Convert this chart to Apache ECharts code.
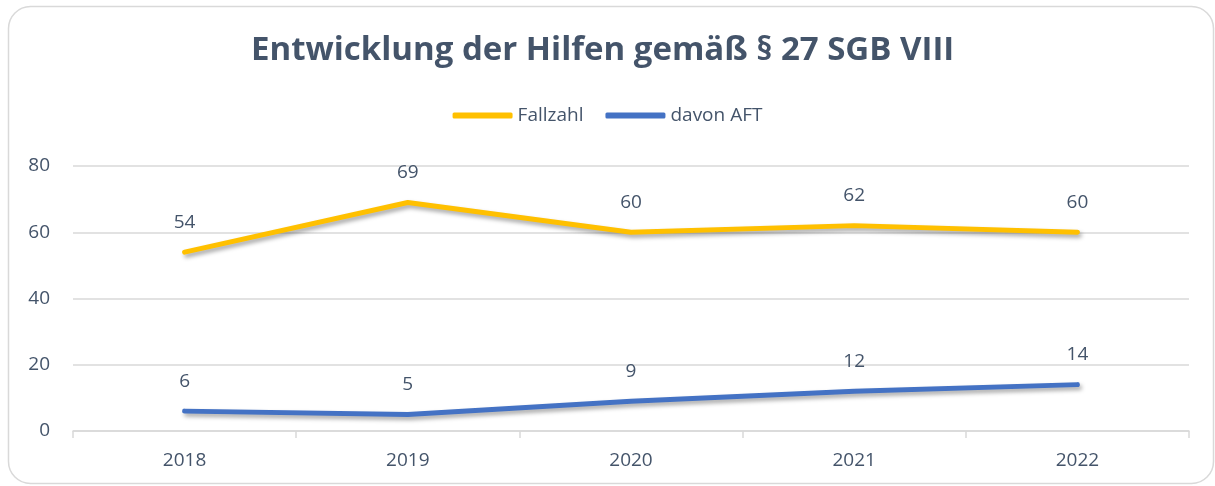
<!DOCTYPE html>
<html>
<head>
<meta charset="utf-8">
<script src="https://cdn.jsdelivr.net/npm/echarts@6/dist/echarts.min.js"></script>
<style>
  html, body { margin: 0; padding: 0; background: #fff; }
  #chart { width: 1215px; height: 486px; }
</style>
</head>
<body>
<div id="chart"></div>
<script>
  // Daten
  const years = ['2018', '2019', '2020', '2021', '2022'];
  const fallzahl = [54, 69, 60, 62, 60];
  const davonAft = [6, 5, 9, 12, 14];
  const yTicks = [0, 20, 40, 60, 80];

  const textColor = '#44546A';
  const font = 'Open Sans';

  const lineShadow = {
    shadowColor: 'rgba(0,0,0,0.35)',
    shadowBlur: 4,
    shadowOffsetX: 2,
    shadowOffsetY: 3
  };

  function lineSeries(name, data, color) {
    return {
      name: name,
      type: 'line',
      data: data,
      color: color,
      symbol: 'circle',
      symbolSize: 1,
      showSymbol: true,
      itemStyle: { color: color },
      lineStyle: Object.assign({ width: 5, cap: 'round', join: 'round' }, lineShadow),
      label: {
        show: true, position: 'top', distance: 20,
        fontFamily: font, fontSize: 19, color: textColor
      }
    };
  }

  const chart = echarts.init(document.getElementById('chart'));
  chart.setOption({
    animation: false,
    textStyle: { fontFamily: font },
    graphic: [{
      type: 'rect',
      shape: { x: 8.5, y: 6.5, width: 1205, height: 477, r: 22 },
      style: { fill: 'none', stroke: '#d9d9d9', lineWidth: 1.5 },
      z: -1
    }],
    title: {
      text: 'Entwicklung der Hilfen gemäß § 27 SGB VIII',
      left: 246,
      top: 29,
      textStyle: { fontFamily: font, fontSize: 33, fontWeight: 'bold', color: textColor }
    },
    legend: {
      top: 101,
      left: 'center',
      itemWidth: 60,
      itemHeight: 6,
      itemGap: 22,
      icon: 'roundRect',
      textStyle: { fontFamily: font, fontSize: 19, color: textColor },
      data: ['Fallzahl', 'davon AFT']
    },
    grid: { left: 73, right: 26, top: 166, bottom: 55 },
    xAxis: {
      type: 'category',
      data: years,
      boundaryGap: true,
      axisLine: { lineStyle: { color: '#d9d9d9', width: 1.5 } },
      axisTick: { show: true, length: 7, lineStyle: { color: '#d9d9d9', width: 1.5 } },
      axisLabel: { fontFamily: font, fontSize: 19, color: textColor, margin: 20 }
    },
    yAxis: {
      type: 'value',
      min: yTicks[0],
      max: yTicks[yTicks.length - 1],
      interval: 20,
      axisLine: { show: false },
      axisTick: { show: false },
      splitLine: { lineStyle: { color: '#d9d9d9', width: 1.5 } },
      axisLabel: { fontFamily: font, fontSize: 19, color: textColor, margin: 23 }
    },
    series: [
      lineSeries('Fallzahl', fallzahl, '#FFC000'),
      lineSeries('davon AFT', davonAft, '#4472C4')
    ]
  });
</script>
</body>
</html>
